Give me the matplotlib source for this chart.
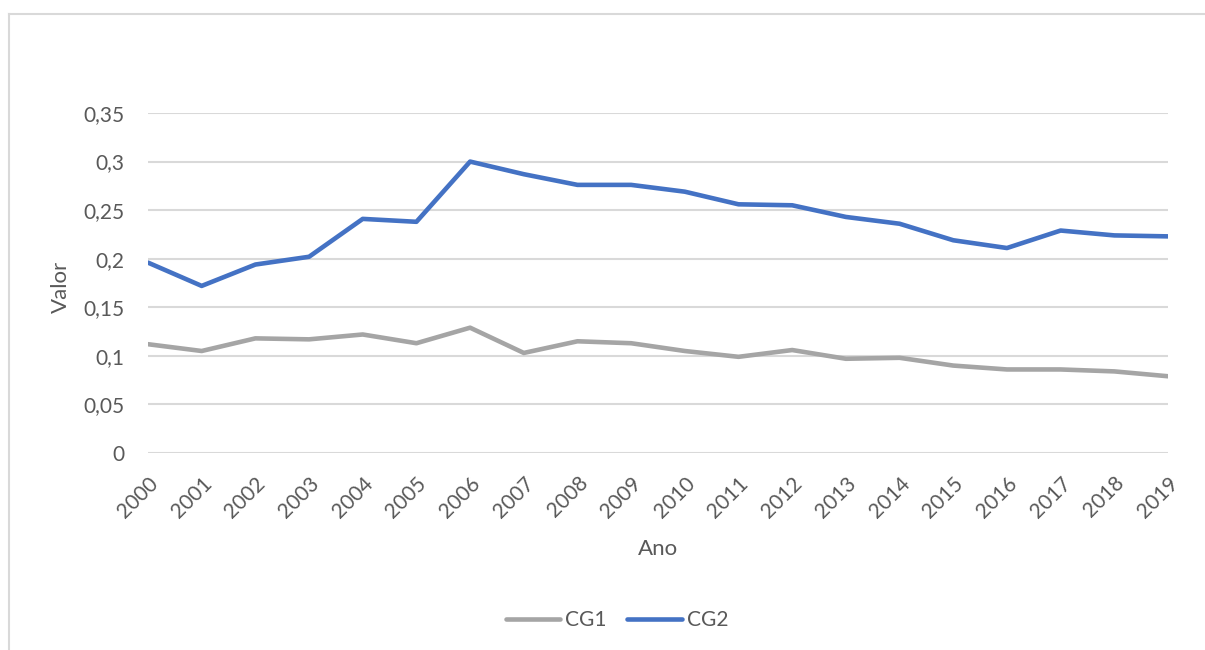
import matplotlib
matplotlib.use("Agg")
import matplotlib.pyplot as plt
import matplotlib.transforms as mtransforms
from matplotlib.lines import Line2D

anos = list(range(2000, 2020))
cg1 = [0.112, 0.105, 0.118, 0.117, 0.122, 0.113, 0.129, 0.103, 0.115, 0.113,
       0.105, 0.099, 0.106, 0.097, 0.098, 0.090, 0.086, 0.086, 0.084, 0.079]
cg2 = [0.196, 0.172, 0.194, 0.202, 0.241, 0.238, 0.300, 0.287, 0.276, 0.276,
       0.269, 0.256, 0.255, 0.243, 0.236, 0.219, 0.211, 0.229, 0.224, 0.223]
yticks = [0, 0.05, 0.1, 0.15, 0.2, 0.25, 0.3, 0.35]
ylabels = ["0", "0,05", "0,1", "0,15", "0,2", "0,25", "0,3", "0,35"]

txt = "#595959"
grid = "#D9D9D9"
plt.rcParams["font.family"] = ["Lato", "DejaVu Sans"]
fs = 15
fs_titulo = 16

W, H = 1205, 650
fig = plt.figure(figsize=(W / 100, H / 100), dpi=100)
ax = fig.add_axes([148 / W, 1 - 453 / H, (1168 - 148) / W, (453 - 113) / H])

ax.plot(anos, cg1, color="#A5A5A5", lw=3.3, solid_capstyle="round",
        solid_joinstyle="round", label="CG1", zorder=3)
ax.plot(anos, cg2, color="#4472C4", lw=3.3, solid_capstyle="round",
        solid_joinstyle="round", label="CG2", zorder=3)

ax.set_xlim(anos[0], anos[-1])
ax.set_ylim(0, 0.35)
ax.set_yticks(yticks)
ax.set_yticklabels(ylabels)
ax.set_xticks(anos)
ax.set_xticklabels([str(a) for a in anos], rotation=45, ha="right",
                   va="center", rotation_mode="anchor")
ax.tick_params(axis="both", length=0, labelsize=fs, labelcolor=txt)
ax.tick_params(axis="y", pad=17)
ax.tick_params(axis="x", pad=0)
off = mtransforms.ScaledTranslation(7 / 100, -27 / 100, fig.dpi_scale_trans)
for lab in ax.get_xticklabels():
    lab.set_transform(lab.get_transform() + off)

ax.grid(axis="y", color=grid, lw=1.5)
ax.set_axisbelow(True)
for s in ax.spines.values():
    s.set_visible(False)

fig.text(61 / W, 1 - 287 / H, "Valor", rotation=90, ha="center", va="center",
         fontsize=fs_titulo, color=txt)
fig.text(658 / W, 1 - 549 / H, "Ano", ha="center", va="center",
         fontsize=fs_titulo, color=txt)

fig.legend(loc="center", bbox_to_anchor=(617 / W, 1 - 620 / H), ncol=2,
           frameon=False, fontsize=fs, labelcolor=txt, handlelength=2.6,
           handletextpad=0.25, columnspacing=1.0)

# borda da area do grafico (so esquerda e topo aparecem)
fig.add_artist(Line2D([9 / W, 9 / W], [0, 1 - 14 / H], color=grid, lw=1.5))
fig.add_artist(Line2D([9 / W, 1], [1 - 14 / H, 1 - 14 / H], color=grid, lw=1.5))

fig.savefig("out.png", dpi=100)
